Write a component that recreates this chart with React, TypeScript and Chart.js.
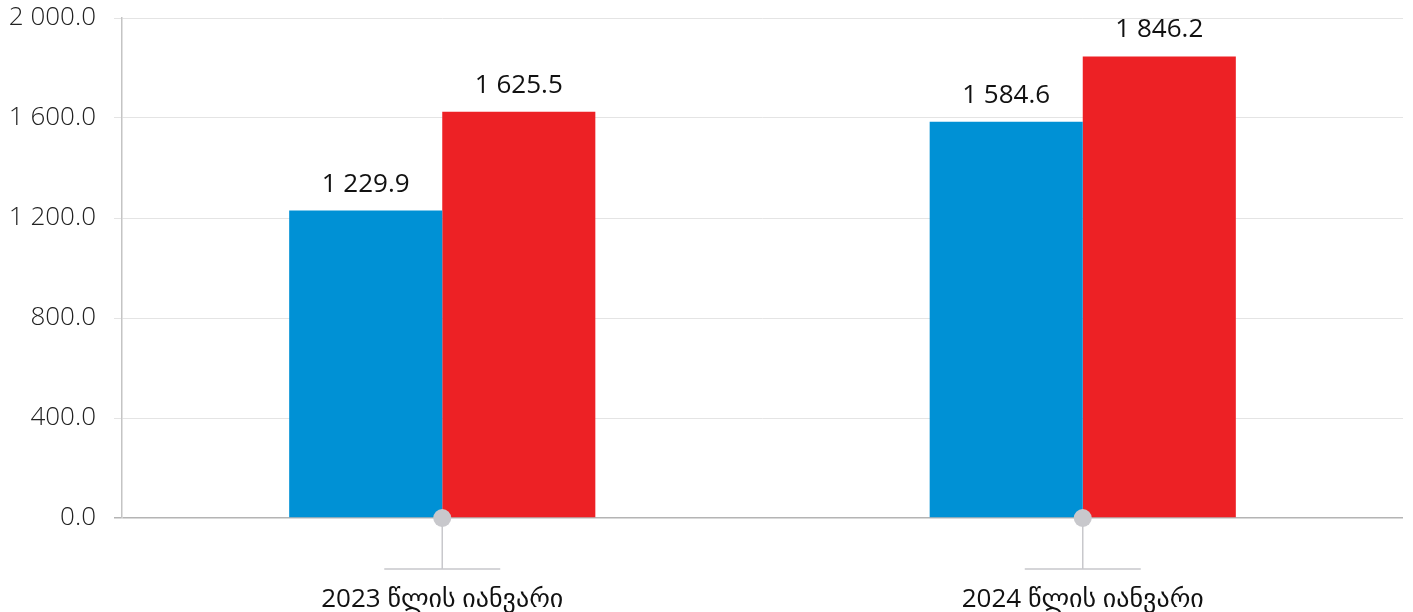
import React, { useEffect, useRef } from "react";
import { Chart, registerables } from "chart.js";

Chart.register(...registerables);

const categories = ["2023 წლის იანვარი", "2024 წლის იანვარი"];
const seriesBlue = [1229.9, 1584.6];
const seriesRed = [1625.5, 1846.2];
const yMin = 0;
const yMax = 2000;
const yStep = 400;

const FONT = "'Open Sans', 'DejaVu Sans', sans-serif";

function fmt(v: number): string {
  const s = v.toFixed(1);
  const [i, d] = s.split(".");
  const withSp = i.replace(/\B(?=(\d{3})+(?!\d))/g, " ");
  return withSp + "." + d;
}

const valueLabels = {
  id: "valueLabels",
  afterDatasetsDraw(chart: any) {
    const ctx = chart.ctx;
    ctx.save();
    ctx.font = `400 26px ${FONT}`;
    ctx.fillStyle = "#111111";
    ctx.textAlign = "center";
    ctx.textBaseline = "alphabetic";
    chart.data.datasets.forEach((ds: any, di: number) => {
      const meta = chart.getDatasetMeta(di);
      meta.data.forEach((el: any, i: number) => {
        ctx.fillText(fmt(ds.data[i]), el.x, el.y - 19);
      });
    });
    ctx.restore();
  },
};

const categoryMarkers = {
  id: "categoryMarkers",
  afterDraw(chart: any) {
    const ctx = chart.ctx;
    const xs = chart.scales.x;
    const base = chart.chartArea.bottom;
    ctx.save();
    categories.forEach((_, i) => {
      const x = xs.getPixelForValue(i);
      ctx.strokeStyle = "#c8c8cc";
      ctx.lineWidth = 1.5;
      ctx.beginPath();
      ctx.moveTo(x, base);
      ctx.lineTo(x, base + 51);
      ctx.moveTo(x - 58, base + 51);
      ctx.lineTo(x + 58, base + 51);
      ctx.stroke();
      ctx.fillStyle = "#c8c8cc";
      ctx.beginPath();
      ctx.arc(x, base, 9, 0, Math.PI * 2);
      ctx.fill();
    });
    ctx.restore();
  },
};

export default function App() {
  const ref = useRef<HTMLCanvasElement>(null);
  useEffect(() => {
    if (!ref.current) return;
    const chart = new Chart(ref.current, {
      type: "bar",
      data: {
        labels: categories,
        datasets: [
          { data: seriesBlue, backgroundColor: "#0091d5", categoryPercentage: 0.478, barPercentage: 1 },
          { data: seriesRed, backgroundColor: "#ed2125", categoryPercentage: 0.478, barPercentage: 1 },
        ],
      },
      options: {
        animation: false,
        responsive: false,
        maintainAspectRatio: false,
        layout: { padding: { top: 18, right: 10, left: 0, bottom: 0 } },
        plugins: { legend: { display: false }, tooltip: { enabled: false } },
        scales: {
          x: {
            grid: { display: false, drawTicks: false },
            border: { display: false },
            ticks: {
              padding: 66,
              color: "#111111",
              font: { family: FONT, size: 26, weight: "400" },
              maxRotation: 0,
            },
            afterFit(scale: any) {
              scale.height = 94;
            },
          },
          y: {
            min: yMin,
            max: yMax,
            grid: {
              color: (c: any) => (c.tick && c.tick.value === 0 ? "#b4b4b4" : "#e4e4e4"),
              lineWidth: (c: any) => (c.tick && c.tick.value === 0 ? 1.5 : 1),
              tickLength: 8,
              drawTicks: true,
            },
            border: { display: true, color: "#c4c4c4", width: 1.5 },
            ticks: {
              stepSize: yStep,
              padding: 18,
              color: "#222222",
              font: { family: FONT, size: 26, weight: "300" },
              callback: (v: any) => fmt(Number(v)),
            },
            afterFit(scale: any) {
              scale.width = 122;
              scale.paddingTop = 0;
              scale.paddingBottom = 0;
            },
          },
        },
      },
      plugins: [valueLabels, categoryMarkers],
    });
    return () => chart.destroy();
  }, []);
  return (
    <div style={{ position: "fixed", left: 0, top: 0, width: 1413, height: 612, background: "#fff" }}>
      <canvas ref={ref} width={1413} height={612} style={{ width: 1413, height: 612 }} />
    </div>
  );
}
